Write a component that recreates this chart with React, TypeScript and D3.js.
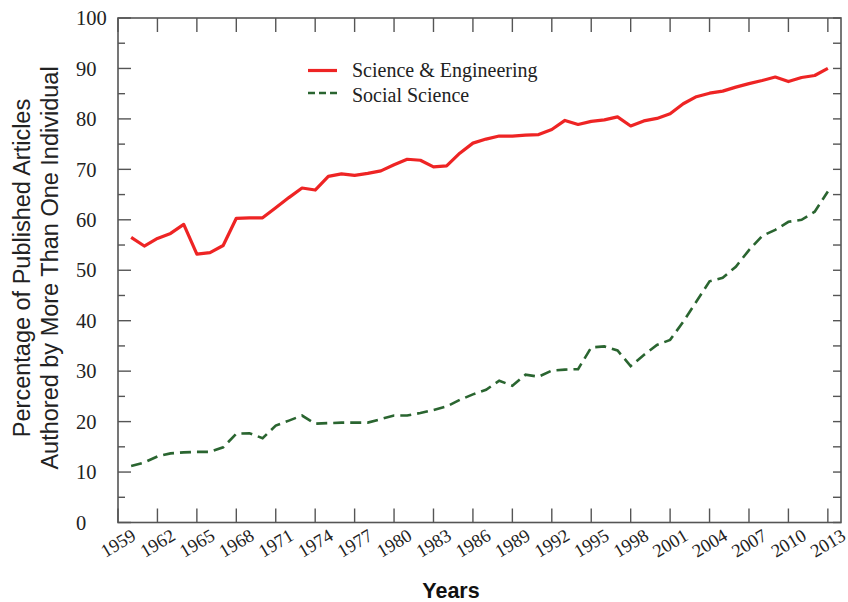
import React from "react";
import * as d3 from "d3";

const years: number[] = d3.range(1960, 2014);
const scienceEngineering: number[] = [
  56.5, 54.8, 56.3, 57.3, 59.1, 53.2, 53.5, 54.9, 60.3, 60.4,
  60.4, 62.4, 64.4, 66.3, 65.9, 68.6, 69.1, 68.8, 69.2, 69.7,
  70.9, 72.0, 71.8, 70.5, 70.7, 73.2, 75.2, 76.0, 76.6, 76.6,
  76.8, 76.9, 77.9, 79.7, 78.9, 79.5, 79.8, 80.4, 78.6, 79.6,
  80.1, 81.0, 83.0, 84.4, 85.1, 85.5, 86.3, 87.0, 87.6, 88.3,
  87.4, 88.2, 88.6, 90.0,
];
const socialScience: number[] = [
  11.2, 11.9, 13.1, 13.7, 13.9, 14.0, 14.0, 14.9, 17.6, 17.7,
  16.7, 19.2, 20.2, 21.2, 19.6, 19.7, 19.8, 19.8, 19.8, 20.5,
  21.2, 21.2, 21.7, 22.3, 23.0, 24.3, 25.4, 26.3, 28.1, 27.1,
  29.3, 28.9, 30.1, 30.3, 30.4, 34.7, 34.9, 34.1, 31.0, 33.2,
  35.2, 36.2, 39.8, 43.8, 47.8, 48.5, 50.7, 54.0, 56.8, 58.0,
  59.6, 60.0, 61.6, 65.6,
];
const xTickYears: number[] = d3.range(1959, 2014, 3);
const yTicks: number[] = d3.range(0, 101, 5);
const yLabels: number[] = d3.range(0, 101, 10);
const seriesNames = ["Science & Engineering", "Social Science"];

const W = 848, H = 602;
const L = 118, R = 841, T = 18, B = 522.5;
const AX = "#555";
const RED = "#ee2424";
const GREEN = "#2a6530";
const SERIF = "'Liberation Serif', 'Times New Roman', serif";
const SANS = "'Liberation Sans', Arial, sans-serif";

export default function App() {
  const x = d3.scaleLinear().domain([1959, 2014]).range([L, R]);
  const y = d3.scaleLinear().domain([0, 100]).range([B, T]);
  const line = d3
    .line<[number, number]>()
    .x((d) => x(d[0]))
    .y((d) => y(d[1]));
  const se = years.map((yr, i) => [yr, scienceEngineering[i]] as [number, number]);
  const ss = years.map((yr, i) => [yr, socialScience[i]] as [number, number]);

  return (
    <svg
      width={W}
      height={H}
      style={{ position: "absolute", left: 0, top: 0, background: "#fff" }}
    >
      <rect x={L} y={T} width={R - L} height={B - T} fill="none" stroke={AX} strokeWidth={1.6} />
      {yTicks.map((v) => {
        const major = v % 10 === 0;
        return (
          <g key={"y" + v}>
            <line x1={L} x2={L + (major ? 13 : 7)} y1={y(v)} y2={y(v)} stroke={AX} strokeWidth={1.4} />
            <line x1={R} x2={R - 8} y1={y(v)} y2={y(v)} stroke={AX} strokeWidth={1.4} />
          </g>
        );
      })}
      {yLabels.map((v) => (
        <text key={"yl" + v} x={76} y={y(v)} dy="0.35em" fontFamily={SERIF} fontSize={20.5} fill="#222">
          {v}
        </text>
      ))}
      {xTickYears.map((yr) => (
        <g key={"x" + yr}>
          <line x1={x(yr)} x2={x(yr)} y1={B} y2={B - 14} stroke={AX} strokeWidth={1.4} />
          <line x1={x(yr)} x2={x(yr)} y1={T} y2={T + 14} stroke={AX} strokeWidth={1.4} />
          <text
            transform={`translate(${x(yr)},543) rotate(-31)`}
            textAnchor="middle"
            dy="0.35em"
            fontFamily={SERIF}
            fontSize={18.5}
            fill="#222"
          >
            {yr}
          </text>
        </g>
      ))}
      <path d={line(ss) || ""} fill="none" stroke={GREEN} strokeWidth={2.6} strokeDasharray="11,6" />
      <path d={line(se) || ""} fill="none" stroke={RED} strokeWidth={3.2} strokeLinejoin="round" />
      <line x1={308} x2={337} y1={70.5} y2={70.5} stroke={RED} strokeWidth={3.2} />
      <line x1={308} x2={337} y1={93} y2={93} stroke={GREEN} strokeWidth={2.6} strokeDasharray="7,4" />
      <text x={352} y={76.5} fontFamily={SERIF} fontSize={20} fill="#222">
        {seriesNames[0]}
      </text>
      <text x={352} y={101.5} fontFamily={SERIF} fontSize={20} fill="#222">
        {seriesNames[1]}
      </text>
      <g transform="translate(0,268) rotate(-90)" fontFamily={SANS} fontSize={23.5} fill="#222" textAnchor="middle">
        <text x={0} y={30}>Percentage of Published Articles</text>
        <text x={0} y={58}>Authored by More Than One Individual</text>
      </g>
      <text x={451} y={598} textAnchor="middle" fontFamily={SANS} fontWeight="bold" fontSize={21.5} fill="#111">
        Years
      </text>
    </svg>
  );
}
